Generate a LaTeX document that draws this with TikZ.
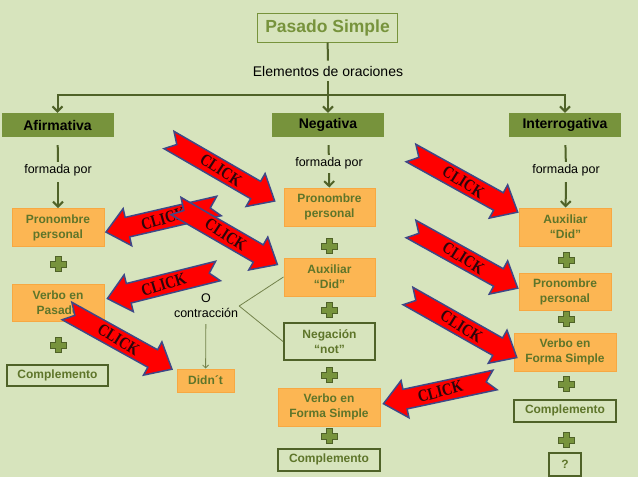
\documentclass[tikz,border=0pt]{standalone}
\usepackage{fontspec}
\setmainfont{Liberation Sans}
\newfontfamily\clickfont{Liberation Serif}
\usetikzlibrary{arrows.meta}

\definecolor{bggreen}{RGB}{215,228,189}
\definecolor{hdrgreen}{RGB}{119,147,60}
\definecolor{darkolive}{RGB}{79,98,40}
\definecolor{boxtext}{RGB}{94,117,42}
\definecolor{orfill}{RGB}{252,182,83}
\definecolor{ordraw}{RGB}{247,168,66}
\definecolor{clickblue}{RGB}{62,72,135}
\definecolor{clickdark}{RGB}{45,5,10}
\definecolor{thinolive}{RGB}{115,130,75}

\tikzset{
  titlebox/.style={draw=hdrgreen, line width=1pt, text=hdrgreen, minimum width=140pt, minimum height=29pt,
    font=\fontsize{17.5}{19}\selectfont\bfseries},
  plain/.style={inner sep=5pt, font=\fontsize{14}{16}\selectfont},
  formtext/.style={inner sep=2pt, font=\fontsize{12.5}{14}\selectfont},
  hdr/.style={fill=hdrgreen, minimum width=112pt, minimum height=24pt, font=\fontsize{14}{16}\selectfont\bfseries},
  orbox/.style={fill=orfill, draw=ordraw, line width=1pt, text=boxtext, align=center,
    minimum width=92pt, minimum height=38pt, font=\fontsize{12}{15}\selectfont\bfseries},
  olbox/.style={draw=darkolive, line width=2pt, text=boxtext, align=center,
    minimum width=101pt, minimum height=22pt, font=\fontsize{12}{15}\selectfont\bfseries},
  conn/.style={draw=darkolive, line width=2pt},
  connarr/.style={conn, -{Straight Barb[length=5pt,width=10pt]}},
  thinline/.style={draw=thinolive, line width=0.8pt},
  clickbody/.style={fill=red, draw=clickblue, line width=1.5pt, line join=miter},
  clicktext/.style={text=clickdark, inner sep=0pt, font=\clickfont\fontsize{17}{17}\selectfont\bfseries},
  addsign/.pic={
    \path[fill=hdrgreen, draw=darkolive, line width=0.8pt] (-3,-7.5) -- (3,-7.5) -- (3,-3) -- (8,-3) -- (8,3)
      -- (3,3) -- (3,7.5) -- (-3,7.5) -- (-3,3) -- (-8,3) -- (-8,-3) -- (-3,-3) -- cycle;
  }
}

% tail, angle, length, text angle, name
\newcommand{\clickarrow}[5]{%
  \begin{scope}[shift={(#1)}, rotate=#2]
    \path[clickbody] (0,-10) -- (#3-22,-10) -- (#3-22,-19) -- (#3,0) -- (#3-22,19) -- (#3-22,10) -- (0,10) -- (9,0) -- cycle;
    \node[clicktext, rotate=#4, xscale=0.82] (#5) at (#3/2-1,0) {CLICK};
  \end{scope}}

\begin{document}
\begin{tikzpicture}[x=1pt,y=-1pt]
\useasboundingbox (0,0) rectangle (638,479);
\fill[bggreen] (0,0) rectangle (638,479);
\fill[white] (0,477) rectangle (638,479);

% top
\node[titlebox] (title) at (327.5,27.5) {Pasado Simple};
\node[plain] (elem) at (328,71) {Elementos de oraciones};
\coordinate (bar) at (328,95);

\node[hdr] (afi) at (57.5,125) {Afirmativa};
\node[hdr] (neg) at (328,125) {Negativa};
\node[hdr] (inte) at (565,125) {Interrogativa};

\draw[conn] (title) -- (elem);
\draw[conn] (elem) -- (bar);
\draw[connarr] (bar) -| (afi);
\draw[connarr] (bar) -| (inte);
\draw[connarr] (bar) -- (neg);

% afirmativa
\node[formtext] (fa) at (58,170) {formada por};
\node[orbox] (pa) at (58,227.5) {Pronombre\\personal};
\pic at (58,264) {addsign};
\node[orbox, minimum height=37pt] (va) at (58,302.5) {Verbo en\\Pasado};
\pic at (58,345) {addsign};
\node[olbox, minimum height=21pt] (ca) at (57.5,375.5) {Complemento};
\draw[conn, shorten <=8pt] (afi) -- (fa);
\draw[connarr, shorten <=4pt] (fa) -- (pa);

% negativa
\node[formtext] (fn) at (329,163) {formada por};
\node[orbox, minimum width=91pt] (pn) at (329.5,207) {Pronombre\\personal};
\pic at (329,246) {addsign};
\node[orbox, minimum width=91pt] (an) at (329.5,277) {Auxiliar\\“Did”};
\pic at (329,310) {addsign};
\node[olbox, minimum width=91pt, minimum height=37pt] (nn) at (329.5,341.5) {Negación\\“not”};
\pic at (329,375) {addsign};
\node[orbox, minimum width=102pt] (vn) at (329,407) {Verbo en\\Forma Simple};
\pic at (329,436) {addsign};
\node[olbox, minimum width=102pt] (cn) at (329,459.5) {Complemento};
\draw[conn, shorten <=8pt] (neg) -- (fn);
\draw[connarr, shorten <=2pt] (fn) -- (pn);

% contraccion
\node[formtext, align=center, inner sep=1pt, font=\fontsize{12.5}{15}\selectfont] (oc) at (206,306) {O\\contracción};
\node[orbox, minimum width=57pt, minimum height=23pt] (did) at (205.5,380.5) {Didn´t};
\draw[thinline, -{Straight Barb[length=3pt,width=6pt]}, shorten <=5pt] (oc) -- (did);
\draw[thinline] (oc.east) -- (an.west);
\draw[thinline] (oc.east) -- (nn.west);

% interrogativa
\node[formtext] (fi) at (566,170) {formada por};
\node[orbox] (ai) at (565.5,227) {Auxiliar\\“Did”};
\pic at (566,260) {addsign};
\node[orbox, minimum height=37pt] (pi) at (565,291.5) {Pronombre\\personal};
\pic at (566,319) {addsign};
\node[orbox, minimum width=102pt] (vi) at (565,352) {Verbo en\\Forma Simple};
\pic at (566,384) {addsign};
\node[olbox, minimum width=102pt] (ci) at (565,410.5) {Complemento};
\pic at (566,440) {addsign};
\node[olbox, minimum width=32pt, minimum height=23pt] (qi) at (565,464.5) {?};
\draw[conn, shorten <=8pt] (inte) -- (fi);
\draw[connarr, shorten <=4pt] (fi) -- (ai);

% click arrows
\clickarrow{169,140}{-30}{122}{-33}{clickA}
\clickarrow{219,206}{-167}{116}{16}{clickB}
\clickarrow{176,206}{-30}{117}{-33}{clickC}
\clickarrow{218,271}{-166}{114}{17}{clickD}
\clickarrow{67,311}{-29}{120}{-32}{clickE}
\clickarrow{411,153}{-29}{122}{-32}{clickF}
\clickarrow{411,229}{-29}{122}{-32}{clickG}
\clickarrow{408,296}{-29.5}{125}{-32}{clickH}
\clickarrow{495,380}{-168}{114}{15}{clickI}
\end{tikzpicture}
\end{document}
